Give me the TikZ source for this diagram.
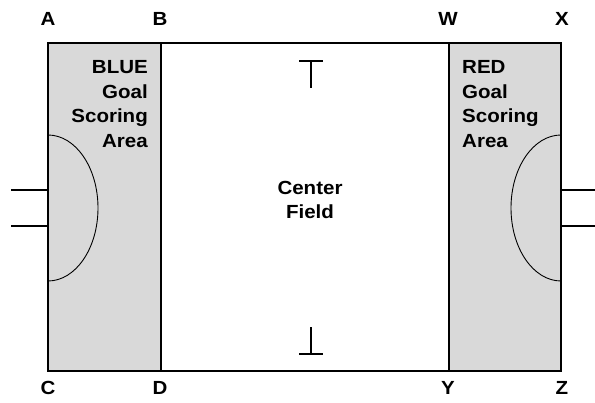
\documentclass[tikz,border=0pt]{standalone}
\usepackage{fontspec}
\setmainfont{Liberation Sans}[FakeStretch=1.08]
\definecolor{areagray}{HTML}{D9D9D9}
\begin{document}
\begin{tikzpicture}[x=1pt,y=-1pt,
  cornerlabel/.style={font=\bfseries\fontsize{19}{22}\selectfont, anchor=base, inner sep=0pt},
  areatext/.style={font=\bfseries\fontsize{19}{24.5}\selectfont, inner sep=0pt},
  border/.style={line width=2pt},
  goalline/.style={line width=2.4pt},
  crease/.style={line width=0.9pt},
  tmark/.style={line width=1.8pt}]
\useasboundingbox (0,0) rectangle (595,403);

% field corners
\coordinate (A) at (48,43);
\coordinate (B) at (161,43);
\coordinate (W) at (449,43);
\coordinate (X) at (561,43);
\coordinate (C) at (48,371);
\coordinate (D) at (161,371);
\coordinate (Y) at (449,371);
\coordinate (Z) at (561,371);

% shaded goal scoring areas
\fill[areagray] (A) rectangle (D);
\fill[areagray] (W) rectangle (Z);

% goal creases
\draw[crease] (48,135) arc[start angle=-90, end angle=90, x radius=50, y radius=73];
\draw[crease] (561,135) arc[start angle=-90, end angle=-270, x radius=50, y radius=73];

% field outline and area lines
\draw[border] (A) rectangle (Z);
\draw[border] (B) -- (D);
\draw[border] (W) -- (Y);

% goal posts
\coordinate (lp1) at (11,190);
\coordinate (lp2) at (11,226);
\coordinate (rp1) at (595,190);
\coordinate (rp2) at (595,226);
\draw[goalline] (lp1) -- (48,190);
\draw[goalline] (lp2) -- (48,226);
\draw[goalline] (561,190) -- (rp1);
\draw[goalline] (561,226) -- (rp2);

% center marks
\draw[tmark] (299,61) -- (323,61) (311,61) -- (311,88);
\draw[tmark] (299,354) -- (323,354) (311,354) -- (311,327);

% corner labels
\node[cornerlabel] (lA) at (48,26) {A};
\node[cornerlabel] (lB) at (160,26) {B};
\node[cornerlabel] (lW) at (448,26) {W};
\node[cornerlabel] (lX) at (562,26) {X};
\node[cornerlabel] (lC) at (48,395) {C};
\node[cornerlabel] (lD) at (160,395) {D};
\node[cornerlabel] (lY) at (448,395) {Y};
\node[cornerlabel] (lZ) at (562,395) {Z};

% area names
\node[areatext, align=right, anchor=north east] (blue) at (148,60.5) {BLUE\\Goal\\Scoring\\Area};
\node[areatext, align=left, anchor=north west] (red) at (462,60.5) {RED\\Goal\\Scoring\\Area};
\node[areatext, align=center, anchor=north] (center) at (310,181) {Center\\Field};
\end{tikzpicture}
\end{document}
